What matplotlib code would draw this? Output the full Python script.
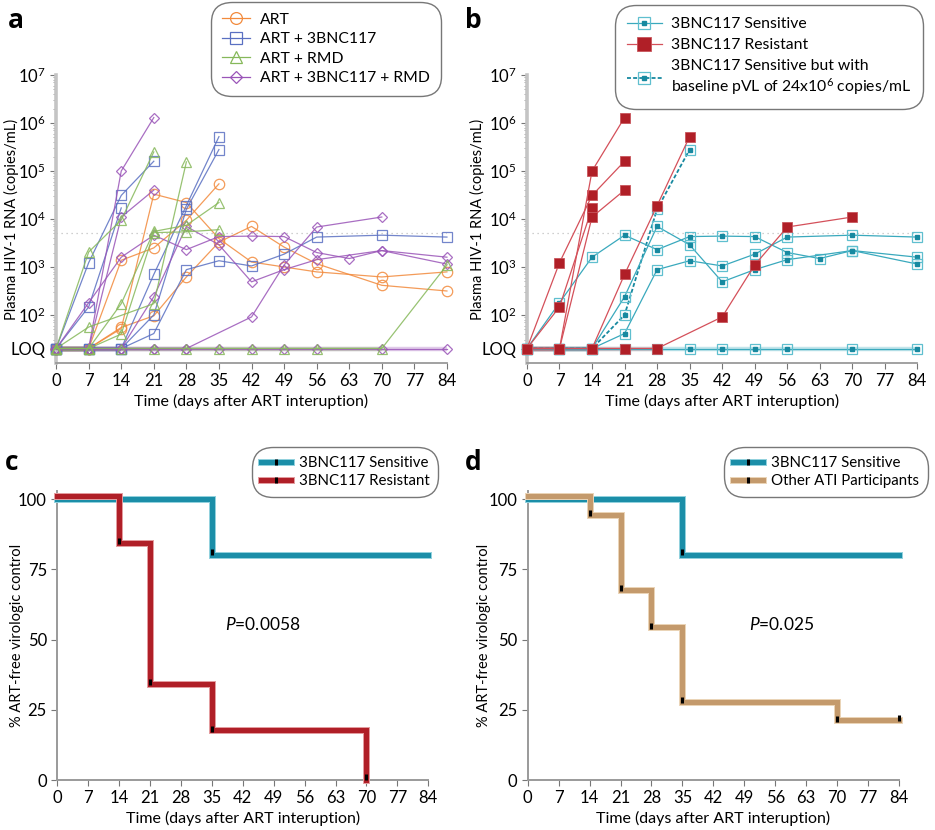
import numpy as np
import matplotlib
matplotlib.use('Agg')
import matplotlib.pyplot as plt
from matplotlib.lines import Line2D
from matplotlib.legend_handler import HandlerTuple
import matplotlib.patheffects as pe
from matplotlib.ticker import FixedLocator, LogLocator, NullFormatter

plt.rcParams['font.family'] = ['Lato', 'DejaVu Sans']
plt.rcParams['mathtext.fontset'] = 'custom'
plt.rcParams['mathtext.rm'] = 'Lato'
plt.rcParams['mathtext.it'] = 'Lato:italic'

LOQ = 20
L = LOQ

# ---- participants (viral load, copies/mL) ----
pt_days = [
    [0, 7, 14, 21, 28, 35, 42, 49, 56, 70, 84],
    [0, 7, 14, 21, 28, 35],
    [0, 7, 14, 21, 28, 35, 42, 49, 56, 70, 84],
    [0, 7, 14, 21, 28, 35, 42, 49, 56, 70, 84],
    [0, 7, 14, 21, 28, 35],
    [0, 7, 14, 21],
    [0, 7, 14],
    [0, 7, 14, 21, 28, 35],
    [0, 7, 14, 21],
    [0, 7, 21, 28],
    [0, 7, 14, 21, 28, 35],
    [0, 7, 14, 21, 28, 35],
    [0, 7, 14, 21, 28, 35, 42, 49, 56, 70, 84],
    [0, 7, 14, 21, 28, 35, 42, 49, 56, 63, 70, 84],
    [0, 7, 14, 21, 28, 35, 42, 49, 56, 70, 84],
    [0, 7, 14, 21, 28, 35, 42, 49, 56, 70, 84],
    [0, 7, 14, 21],
    [0, 7, 14, 21],
    [0, 7, 14, 21, 28, 42, 49, 56, 70],
]
pt_vl = [
    [L, L, 52, 3.3e4, 2.2e4, 3.9e3, 1.27e3, 1e3, 790, 620, 790],
    [L, L, 1.38e3, 2.5e3, 9.4e3, 5.4e4],
    [L, L, 55, 96, 620, 3.3e3, 7e3, 2.6e3, 1.17e3, 415, 316],
    [L, L, L, 41, 880, 1.35e3, 1.05e3, 1.85e3, 4.2e3, 4.6e3, 4.2e3],
    [L, L, L, 100, 1.6e4, 2.8e5],
    [L, 1.23e3, 3.1e4, 1.6e5],
    [L, 147, 1.7e4],
    [L, L, L, 700, 1.9e4, 5.2e5],
    [L, 2.05e3, 9.5e3, 2.5e5],
    [L, 56, 172, 1.55e5],
    [L, L, 172, 5.5e3, 7.4e3, 2.2e4],
    [L, L, 40, 5.2e3, 5.4e3, 6e3],
    [L, L, L, L, L, L, L, L, L, L, 1.1e3],
    [L, 180, 1.6e3, 4.6e3, 2.3e3, 4.3e3, 4.4e3, 4.3e3, 2e3, 1.5e3, 2.2e3, 1.6e3],
    [L, L, L, 240, 7e3, 2.9e3, 490, 880, 1.42e3, 2.2e3, 1.15e3],
    [L, L, L, L, L, L, L, L, L, L, L],
    [L, L, 1e5, 1.3e6],
    [L, L, 1.1e4, 4e4],
    [L, L, L, L, L, 91, 1.1e3, 6.8e3, 1.1e4],
]
pt_group = ['ART', 'ART', 'ART',
            'ART + 3BNC117', 'ART + 3BNC117', 'ART + 3BNC117', 'ART + 3BNC117', 'ART + 3BNC117',
            'ART + RMD', 'ART + RMD', 'ART + RMD', 'ART + RMD', 'ART + RMD',
            'ART + 3BNC117 + RMD', 'ART + 3BNC117 + RMD', 'ART + 3BNC117 + RMD',
            'ART + 3BNC117 + RMD', 'ART + 3BNC117 + RMD', 'ART + 3BNC117 + RMD']
# S = sensitive, D = sensitive with high baseline pVL, R = resistant, None = no 3BNC117
pt_sens = [None, None, None, 'S', 'D', 'R', 'R', 'R',
           None, None, None, None, None, 'S', 'S', 'S', 'R', 'R', 'R']

groups = ['ART', 'ART + 3BNC117', 'ART + RMD', 'ART + 3BNC117 + RMD']
group_color = {'ART': '#f28a3c', 'ART + 3BNC117': '#5a70c2',
               'ART + RMD': '#86b85a', 'ART + 3BNC117 + RMD': '#9a55b8'}
group_marker = {'ART': 'o', 'ART + 3BNC117': 's', 'ART + RMD': '^', 'ART + 3BNC117 + RMD': 'D'}
group_ms = {'ART': 7.5, 'ART + 3BNC117': 7.5, 'ART + RMD': 7.5, 'ART + 3BNC117 + RMD': 5.5}

# ---- Kaplan-Meier curves ----
km_sens_t = [0, 35, 84]
km_sens_s = [100, 80, 80]
km_sens_tick_t = [35]
km_sens_tick_s = [81]
km_res_t = [0, 14, 21, 35, 70]
km_res_s = [101, 84.3, 34.3, 17.7, 0]
km_res_tick_t = [14, 21, 35, 70]
km_res_tick_s = [85, 35, 18.3, 1.2]
km_oth_t = [0, 14, 21, 28, 35, 70, 84]
km_oth_s = [101, 94.3, 67.8, 54.3, 27.8, 21.2, 21.2]
km_oth_tick_t = [14, 21, 28, 35, 70, 84]
km_oth_tick_s = [95, 68.5, 55, 28.5, 21.8, 22]

teal = '#1b8ea8'
red = '#b01f27'
tan = '#c49a6c'
cyan_line = '#3aa9bd'
cyan_edge = '#5fbfcf'
cyan_dot = '#1789a0'
red_line = '#d4505a'

xt = list(range(0, 85, 7))

fig = plt.figure(figsize=(9.35, 8.3), dpi=100)
ax_a = fig.add_axes([0.060, 0.5627, 0.418, 0.3469])
ax_b = fig.add_axes([0.5636, 0.5627, 0.4175, 0.3469])
ax_c = fig.add_axes([0.0613, 0.0602, 0.3968, 0.3486])
ax_d = fig.add_axes([0.5644, 0.0602, 0.3971, 0.3486])


def style_vl(ax, ylab_x):
    ax.set_yscale('log')
    ax.set_xlim(0, 84)
    ax.set_ylim(10, 1e7)
    for s in ['top', 'right']:
        ax.spines[s].set_visible(False)
    ax.spines['left'].set_color('#c4c4c4')
    ax.spines['left'].set_linewidth(2.6)
    ax.spines['bottom'].set_color('#9a9a9a')
    ax.spines['bottom'].set_linewidth(1.3)
    ax.set_xticks(xt)
    ax.yaxis.set_major_locator(FixedLocator([LOQ, 1e2, 1e3, 1e4, 1e5, 1e6, 1e7]))
    ax.set_yticklabels(['LOQ', '$10^{2}$', '$10^{3}$', '$10^{4}$', '$10^{5}$', '$10^{6}$', '$10^{7}$'])
    ax.yaxis.set_minor_locator(LogLocator(base=10, subs=np.arange(2, 10)))
    ax.yaxis.set_minor_formatter(NullFormatter())
    ax.tick_params(axis='both', which='major', labelsize=12, color='#777777', length=4, width=0.8)
    ax.tick_params(axis='y', which='minor', color='#999999', length=2.5, width=0.6)
    ax.set_xlabel('Time (days after ART interuption)', fontsize=11.5, labelpad=3)
    ax.set_ylabel('Plasma HIV-1 RNA (copies/mL)', fontsize=10.5)
    ax.yaxis.set_label_coords(ylab_x, 0.5)
    ax.axhline(5000, color='#c0c0c0', lw=0.9, ls=(0, (1, 3)), zorder=0)


def pale_loq(ax, d, v, color):
    for i in range(len(d) - 1):
        if v[i] == LOQ and v[i + 1] == LOQ:
            ax.plot(d[i:i + 2], v[i:i + 2], color=color, lw=3.2, alpha=0.3,
                    solid_capstyle='butt', zorder=1)


def round_frame(leg, rs=1.3, pad=0.35):
    fr = leg.get_frame()
    fr.set_edgecolor('#555555')
    fr.set_linewidth(1.0)
    fr.set_boxstyle('round', pad=pad, rounding_size=rs)


# ---- panel a ----
style_vl(ax_a, -0.095)
for g in ['ART', 'ART + 3BNC117', 'ART + 3BNC117 + RMD', 'ART + RMD']:
    for d, v, grp in zip(pt_days, pt_vl, pt_group):
        if grp != g:
            continue
        pale_loq(ax_a, d, v, group_color[g])
        ax_a.plot(d, v, color=group_color[g], lw=0.9, marker=group_marker[g],
                  ms=group_ms[g], mfc='none', mec=group_color[g], mew=0.9,
                  alpha=0.85, clip_on=False, zorder=3)
handles_a = [Line2D([], [], color=group_color[g], lw=0.9, marker=group_marker[g],
                    ms=group_ms[g] + 1, mfc='none', mew=0.9) for g in groups]
leg = ax_a.legend(handles_a, groups, loc='upper right', bbox_to_anchor=(0.99, 1.262),
                  fontsize=11.3, handlelength=1.8, frameon=True, fancybox=True,
                  borderpad=0.35, labelspacing=0.35, handletextpad=0.6)
round_frame(leg)

# ---- panel b ----
style_vl(ax_b, -0.108)
for d, v, s in zip(pt_days, pt_vl, pt_sens):
    if s == 'R':
        pale_loq(ax_b, d, v, '#e06a72')
        ax_b.plot(d, v, color=red_line, lw=0.9, marker='s', ms=7.5, mfc=red, mec='#c8555c',
                  mew=0.6, clip_on=False, zorder=4)
    elif s in ('S', 'D'):
        pale_loq(ax_b, d, v, cyan_line)
        if s == 'D':
            ax_b.plot(d, v, color=cyan_dot, lw=1.3, ls=(0, (2.2, 1.2)), marker='s', ms=7,
                      mfc='none', mec=cyan_edge, mew=0.9, clip_on=False, zorder=3)
        else:
            ax_b.plot(d, v, color=cyan_line, lw=0.9, marker='s', ms=7,
                      mfc='none', mec=cyan_edge, mew=0.9, clip_on=False, zorder=3)
        ax_b.plot(d, v, ls='none', marker='s', ms=2.3, color=cyan_dot, clip_on=False, zorder=3)

h_s = (Line2D([], [], color=cyan_line, lw=0.9, marker='s', ms=8, mfc='none', mec=cyan_edge, mew=0.9),
       Line2D([], [], ls='none', marker='s', ms=2.5, color=cyan_dot))
h_r = Line2D([], [], color=red_line, lw=0.9, marker='s', ms=10, mfc=red, mec='#c8555c', mew=0.6)
h_d = (Line2D([], [], color=cyan_dot, lw=1.3, ls=(0, (2.2, 1.2)), marker='s', ms=8, mfc='none',
              mec=cyan_edge, mew=0.9),
       Line2D([], [], ls='none', marker='s', ms=2.5, color=cyan_dot))
leg = ax_b.legend([h_s, h_r, h_d],
                  ['3BNC117 Sensitive', '3BNC117 Resistant',
                   '3BNC117 Sensitive but with\nbaseline pVL of 24x10$^{6}$ copies/mL'],
                  handler_map={tuple: HandlerTuple(ndivide=1, pad=0)},
                  loc='upper right', bbox_to_anchor=(1.02, 1.25),
                  fontsize=11.3, handlelength=2.2, frameon=True, fancybox=True,
                  borderpad=0.4, labelspacing=0.45, handletextpad=0.6)
round_frame(leg)


# ---- panels c, d ----
def style_km(ax, ylab_x):
    ax.set_xlim(0, 84)
    ax.set_ylim(0, 103)
    for s in ['top', 'right']:
        ax.spines[s].set_visible(False)
    for s in ['left', 'bottom']:
        ax.spines[s].set_color('#9a9a9a')
        ax.spines[s].set_linewidth(1.4)
    ax.set_xticks(xt)
    ax.set_yticks([0, 25, 50, 75, 100])
    ax.tick_params(axis='both', labelsize=12, color='#777777', length=4, width=0.8)
    ax.set_xlabel('Time (days after ART interuption)', fontsize=11.5, labelpad=3)
    ax.set_ylabel('% ART-free virologic control', fontsize=10.5)
    ax.yaxis.set_label_coords(ylab_x, 0.5)


def km(ax, t, s, ticks_t, ticks_s, color, edge):
    ax.step(t, s, where='post', color=color, lw=3.6, solid_joinstyle='miter',
            path_effects=[pe.Stroke(linewidth=5, foreground=edge), pe.Normal()],
            clip_on=False, zorder=3)
    ax.plot(ticks_t, ticks_s, ls='none', marker='|', ms=4.5, mew=2.2, color='black',
            clip_on=False, zorder=4)


style_km(ax_c, -0.09)
km(ax_c, km_sens_t, km_sens_s, km_sens_tick_t, km_sens_tick_s, teal, '#8fd0dd')
km(ax_c, km_res_t, km_res_s, km_res_tick_t, km_res_tick_s, red, '#e39a9d')
ax_c.text(38, 55.5, '$\\mathit{P}$=0.0058', fontsize=12.5, va='center')

style_km(ax_d, -0.1)
km(ax_d, km_sens_t, km_sens_s, km_sens_tick_t, km_sens_tick_s, teal, '#8fd0dd')
km(ax_d, km_oth_t, km_oth_s, km_oth_tick_t, km_oth_tick_s, tan, '#ead3b6')
ax_d.text(50, 55.5, '$\\mathit{P}$=0.025', fontsize=12.5, va='center')


def km_handle(color, edge):
    line = Line2D([], [], color=color, lw=3.6,
                  path_effects=[pe.Stroke(linewidth=5, foreground=edge), pe.Normal()])
    tick = Line2D([], [], ls='none', marker='|', ms=4.5, mew=2.2, color='black')
    return (line, tick)


for ax, labels, cols, bx in [(ax_c, ['3BNC117 Sensitive', '3BNC117 Resistant'],
                              [(teal, '#8fd0dd'), (red, '#e39a9d')], 1.035),
                             (ax_d, ['3BNC117 Sensitive', 'Other ATI Participants'],
                              [(teal, '#8fd0dd'), (tan, '#ead3b6')], 1.085)]:
    leg = ax.legend([km_handle(*c) for c in cols], labels, loc='upper right',
                    handler_map={tuple: HandlerTuple(ndivide=1, pad=0)},
                    bbox_to_anchor=(bx, 1.16), fontsize=10.8,
                    handlelength=2.0, numpoints=1, frameon=True, fancybox=True,
                    borderpad=0.3, labelspacing=0.25, handletextpad=0.5)
    round_frame(leg, rs=1.4, pad=0.3)

for lab, x, y in [('a', 0.008, 0.975), ('b', 0.497, 0.975), ('c', 0.005, 0.443), ('d', 0.497, 0.443)]:
    fig.text(x, y, lab, fontsize=19, fontweight='bold', va='center', ha='left',
             family=['Open Sans', 'DejaVu Sans'])

fig.savefig('out.png', dpi=100)
